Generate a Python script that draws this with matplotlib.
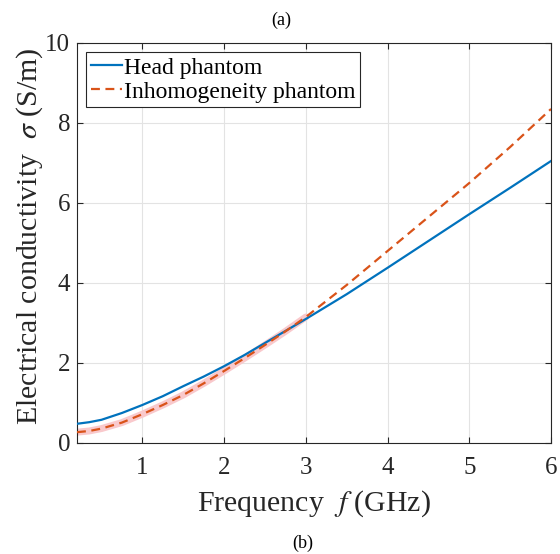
import matplotlib.pyplot as plt
import numpy as np

plt.rcParams['font.family'] = ['Liberation Serif', 'DejaVu Serif']
plt.rcParams['mathtext.fontset'] = 'stix'

# conductivity vs frequency
freq = [0.2, 0.35, 0.5, 0.75, 1.0, 1.25, 1.5, 1.75, 2.0, 2.25, 2.5, 2.75,
        3.0, 3.5, 4.0, 4.5, 5.0, 5.5, 6.0]
sigma_head = [0.48, 0.52, 0.58, 0.75, 0.95, 1.17, 1.42, 1.66, 1.92, 2.20, 2.50, 2.80,
              3.10, 3.72, 4.38, 5.05, 5.72, 6.38, 7.05]
sigma_inhom = [0.27, 0.30, 0.36, 0.51, 0.72, 0.95, 1.20, 1.49, 1.80, 2.12, 2.45, 2.79,
               3.15, 3.95, 4.80, 5.65, 6.50, 7.40, 8.35]
fit_end = 3.0

fig = plt.figure(figsize=(5.6, 5.54), dpi=100)
ax = fig.add_axes([0.1375, 0.2004, 0.8465, 0.722])

f = np.array(freq)
s2 = np.array(sigma_inhom)
m = f <= fit_end
ax.plot(f[m], s2[m], color='#f9c9cc', lw=5, solid_capstyle='round', zorder=2)
ax.plot(freq, sigma_head, color='#0072BD', lw=1.6, label='Head phantom', zorder=3)
ax.plot(freq, sigma_inhom, color='#D95319', lw=1.6, ls=(0, (4, 2.5)),
        label='Inhomogeneity phantom', zorder=4)

ax.set_xlim(0.2, 6)
ax.set_ylim(0, 10)
ax.set_xticks([1, 2, 3, 4, 5, 6])
ax.set_yticks([0, 2, 4, 6, 8, 10])
ax.grid(True, color='#e3e3e3', lw=0.8)
ax.set_axisbelow(True)
ax.tick_params(direction='in', length=4, width=0.8, top=True, right=True,
               labelsize=18, colors='#262626')
ax.tick_params(axis='x', pad=10)
ax.tick_params(axis='y', pad=5)
for sp in ax.spines.values():
    sp.set_color('#262626')
    sp.set_linewidth(0.8)

ax.set_xlabel('Frequency  $f$ (GHz)', fontsize=21.5, color='#262626', labelpad=7)
ax.set_ylabel('Electrical conductivity  $\\sigma$ (S/m)', fontsize=21.5,
              color='#262626', labelpad=0)
ax.yaxis.label.set_y(0.517)

leg = ax.legend(loc='upper left', fontsize=17, fancybox=False, framealpha=1,
                edgecolor='#262626', borderpad=0.2, labelspacing=0.1,
                handlelength=1.3, handletextpad=0.1, borderaxespad=0.4)
leg.get_frame().set_linewidth(0.8)

fig.text(0.503, 0.964, '(a)', ha='center', va='center', fontsize=13)
fig.text(0.541, 0.02, '(b)', ha='center', va='center', fontsize=13)

fig.savefig('out.png', dpi=100)
